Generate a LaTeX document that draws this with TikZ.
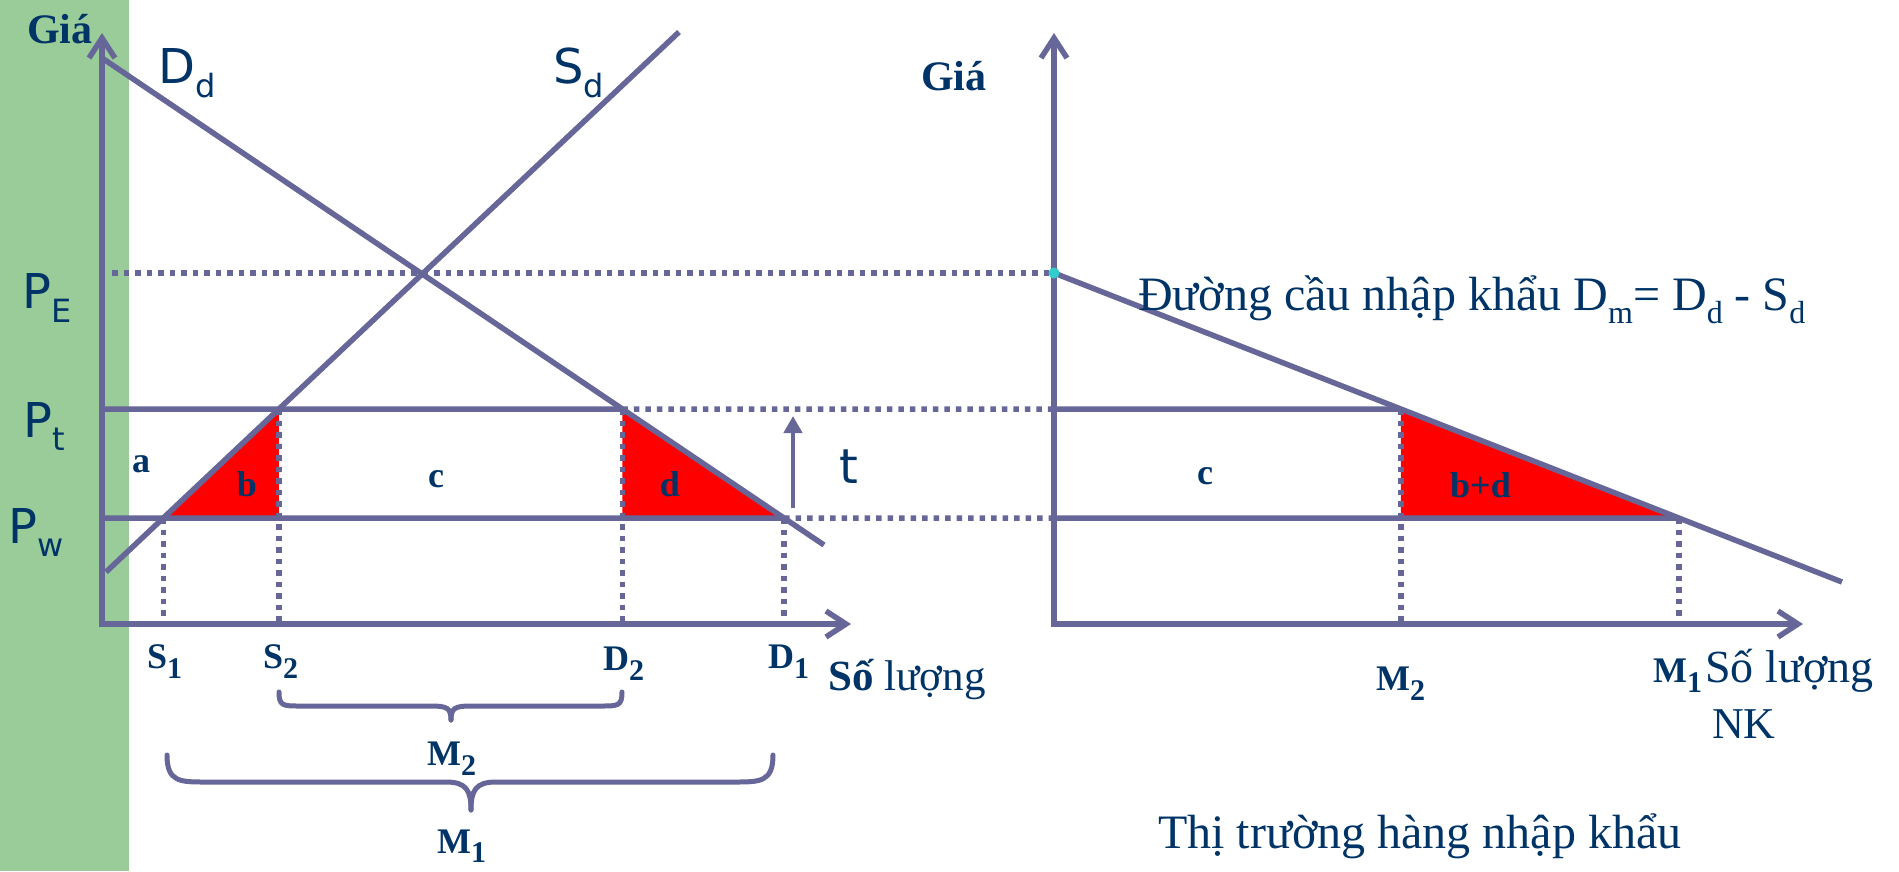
\documentclass[tikz,border=0pt]{standalone}
\usepackage{fontspec}
\setmainfont{Liberation Serif}
\newfontfamily\sansf{DejaVu Sans}
\usetikzlibrary{arrows.meta}
\definecolor{ln}{RGB}{102,102,153}
\definecolor{tx}{RGB}{0,51,102}
\definecolor{grn}{RGB}{153,204,153}
\definecolor{cy}{RGB}{51,204,204}
\newcommand\lsub[3]{\raisebox{-#2pt}{\fontsize{#1}{#1}\selectfont #3}}
\newcommand\fs[1]{\fontsize{#1}{#1}\selectfont}
\begin{document}
\begin{tikzpicture}[x=1pt,y=-1pt,
  curve/.style={line width=5.5pt, draw=ln},
  axisln/.style={line width=5.5pt, draw=ln, {Straight Barb[length=20pt,width=26pt]}-{Straight Barb[length=20pt,width=26pt]}},
  dotln/.style={line width=5.5pt, draw=ln, dash pattern=on 5.5pt off 6pt},
  brc/.style={line width=5pt, draw=ln, line cap=round},
  sl/.style={inner sep=0pt, text=tx, font=\sansf\fs{48}},
  bl/.style={inner sep=0pt, text=tx, font=\bfseries\fs{36}},
  rl/.style={inner sep=0pt, text=tx, font=\fs{48}},
]
\useasboundingbox (0,0) rectangle (1899,871);
\fill[grn] (0,0) rectangle (129,871);

% key points
\coordinate (O1) at (102,624); \coordinate (Y1) at (102,33); \coordinate (X1) at (851,624);
\coordinate (DdA) at (102,58); \coordinate (DdB) at (824,545);
\coordinate (SdA) at (106,572); \coordinate (SdB) at (679,32);
\coordinate (O2) at (1054,624); \coordinate (Y2) at (1054,33); \coordinate (X2) at (1803,624);
\coordinate (DmA) at (1054,273); \coordinate (DmB) at (1842,582);
\coordinate (PtL) at (102,409); \coordinate (PtR) at (1054,409);
\coordinate (PwL) at (102,518); \coordinate (PwR) at (1054,518);
\coordinate (PEL) at (112,273);
\coordinate (S1) at (intersection of SdA--SdB and PwL--PwR);
\coordinate (S2) at (intersection of SdA--SdB and PtL--PtR);
\coordinate (D2) at (intersection of DdA--DdB and PtL--PtR);
\coordinate (D1) at (intersection of DdA--DdB and PwL--PwR);
\coordinate (M2) at (intersection of DmA--DmB and PtL--PtR);
\coordinate (M1) at (intersection of DmA--DmB and PwL--PwR);
\coordinate (tB) at (793,508); \coordinate (tT) at (793,416);

% red areas
\fill[red] (S1) -- (S2) -- (S2 |- PwL) -- cycle;
\fill[red] (D2) -- (D2 |- PwL) -- (D1) -- cycle;
\fill[red] (M2) -- (M2 |- PwL) -- (M1) -- cycle;

% dotted guides
\draw[dotln] (PEL) -- (DmA);
\draw[dotln] (D2) -- (PtR);
\draw[dotln] (D1) -- (PwR);
\draw[dotln] (S1) -- (S1 |- O1);
\draw[dotln] (S2) -- (S2 |- O1);
\draw[dotln] (D2) -- (D2 |- O1);
\draw[dotln] (D1) -- (D1 |- O1);
\draw[dotln] (M2) -- (M2 |- O2);
\draw[dotln] (M1) -- (M1 |- O2);

% solid price lines
\draw[curve] (PtL) -- (D2);
\draw[curve] (PwL) -- (D1);
\draw[curve] (PtR) -- (M2);
\draw[curve] (PwR) -- (M1);

% curves
\draw[curve] (DdA) -- (DdB);
\draw[curve] (SdA) -- (SdB);
\draw[curve] (DmA) -- (DmB);

% axes
\draw[axisln] (Y1) -- (O1) -- (X1);
\draw[axisln] (Y2) -- (O2) -- (X2);

% tariff arrow
\draw[line width=4.5pt, draw=ln, -{Triangle[length=17pt,width=18pt]}] (tB) -- (tT);

% cyan point
\fill[cy] (DmA) circle (5.5pt);

% braces
\draw[brc] (279,692) .. controls (279,706) and (283,706) .. (300,706) -- (431,706) .. controls (447,706) and (451,708) .. (451,720);
\draw[brc] (622,692) .. controls (622,706) and (618,706) .. (601,706) -- (471,706) .. controls (455,706) and (451,708) .. (451,720);
\draw[brc] (167,755) .. controls (167,782) and (180,782) .. (205,782) -- (446,782) .. controls (466,782) and (471,790) .. (471,810);
\draw[brc] (773,755) .. controls (773,782) and (760,782) .. (735,782) -- (496,782) .. controls (476,782) and (471,790) .. (471,810);

% sans labels
\node[sl, anchor=base west] (lDd) at (158,83) {D\lsub{32}{14}{d}};
\node[sl, anchor=base west] (lSd) at (553,83) {S\lsub{32}{14}{d}};
\node[sl, anchor=base west] (lPE) at (22,308) {P\lsub{32}{14}{E}};
\node[sl, anchor=base west] (lPt) at (23,437) {P\lsub{32}{13}{t}};
\node[sl, anchor=base west] (lPw) at (8,543) {P\lsub{32}{13}{w}};
\node[sl, anchor=base west] (lt) at (839,483) {t};

% bold serif labels
\node[bl, font=\bfseries\fs{42}, anchor=base west] (gL) at (27,43) {Giá};
\node[bl, font=\bfseries\fs{42}, anchor=base west] (gR) at (921,90) {Giá};
\node[bl, anchor=base] (la) at (141,472) {a};
\node[bl, anchor=base] (lb) at (247,496) {b};
\node[bl, anchor=base] (lc) at (436,487) {c};
\node[bl, anchor=base] (ld) at (670,496) {d};
\node[bl, anchor=base] (lc2) at (1205,484) {c};
\node[bl, anchor=base west] (lbd) at (1450,497) {b+d};
\node[bl, anchor=base west] (lS1) at (147,668) {S\lsub{30}{10}{1}};
\node[bl, anchor=base west] (lS2) at (263,668) {S\lsub{30}{10}{2}};
\node[bl, anchor=base west] (lD2) at (603,670) {D\lsub{30}{10}{2}};
\node[bl, anchor=base west] (lD1) at (768,668) {D\lsub{30}{10}{1}};
\node[bl, anchor=base west] (lM2) at (427,765) {M\lsub{30}{10}{2}};
\node[bl, anchor=base west] (lM1) at (437,853) {M\lsub{30}{9}{1}};
\node[bl, anchor=base west] (rM2) at (1376,690) {M\lsub{30}{10}{2}};
\node[bl, anchor=base west] (rM1) at (1653,682) {M\lsub{30}{10}{1}};

% regular serif texts
\node[rl, font=\fs{43}, anchor=base west] (qL) at (828,690) {\textbf{Số} lượng};
\node[rl, font=\fs{46}, anchor=base west] (qR) at (1705,682) {Số lượng};
\node[rl, font=\fs{44}, anchor=base west] (qNK) at (1712,738) {NK};
\node[rl, anchor=base west] (dm) at (1138,310) {Đường cầu nhập khẩu D\lsub{32}{13}{m}= D\lsub{32}{13}{d} - S\lsub{32}{13}{d}};
\node[rl, anchor=base west] (title) at (1158,848) {Thị trường hàng nhập khẩu};
\end{tikzpicture}
\end{document}
